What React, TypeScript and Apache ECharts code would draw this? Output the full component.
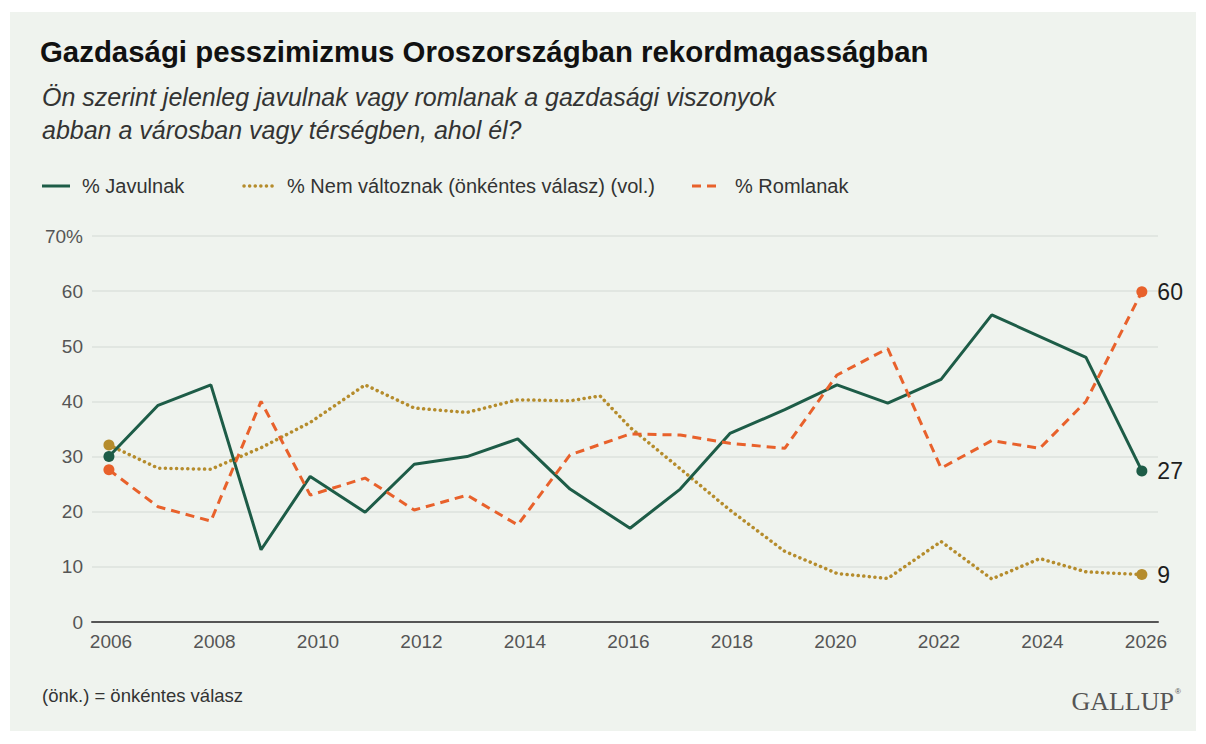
import React, { useEffect, useRef } from "react";
import * as echarts from "echarts";

// Survey dates (decimal years, as placed on the time axis)
const surveyYears = [
  2005.96, 2006.91, 2007.93, 2008.9, 2009.85, 2010.91, 2011.86, 2012.88,
  2013.86, 2014.87, 2015.45, 2016.03, 2017.0, 2017.96, 2019.02, 2020.03,
  2021.01, 2022.04, 2023.02, 2023.95, 2024.84, 2025.92,
];

// % Javulnak
const improving: (number | null)[] = [
  30.0, 39.3, 43.0, 13.1, 26.4, 19.9, 28.6, 30.0, 33.2, 24.1, null, 17.0,
  24.1, 34.2, 38.5, 43.0, 39.7, 44.0, 55.7, null, 48.0, 27.4,
];

// % Nem változnak (önkéntes válasz)
const noChange: (number | null)[] = [
  32.1, 27.9, 27.7, 31.6, 36.2, 43.0, 38.8, 38.0, 40.3, 40.1, 41.0, 35.3,
  27.8, 20.3, 12.8, 8.8, 7.9, 14.6, 7.8, 11.5, 9.1, 8.6,
];

// % Romlanak
const worsening: (number | null)[] = [
  27.6, 20.9, 18.3, 40.0, 23.0, 26.1, 20.3, 23.0, 17.6, 30.3, null, 34.1,
  33.9, 32.4, 31.5, 44.8, 49.6, 27.9, 32.9, 31.5, 40.0, 59.9,
];

const xTickLabels = [2006, 2008, 2010, 2012, 2014, 2016, 2018, 2020, 2022, 2024, 2026];

const seriesNames = [
  "% Javulnak",
  "% Nem változnak (önkéntes válasz) (vol.)",
  "% Romlanak",
];

const GREEN = "#1d5c47";
const GOLD = "#b58c2c";
const ORANGE = "#e8612b";
const BG = "#eff3ee";
const SANS = "'Liberation Sans', Arial, sans-serif";

function buildData(values: (number | null)[]) {
  const pts = surveyYears
    .map((x, i) => ({ x, y: values[i] }))
    .filter((p) => p.y !== null) as { x: number; y: number }[];
  return pts.map((p, i) => {
    const isFirst = i === 0;
    const isLast = i === pts.length - 1;
    const item: any = {
      value: [p.x, p.y],
      symbol: isFirst || isLast ? "circle" : "none",
      symbolSize: 11,
    };
    if (isLast) {
      item.label = {
        show: true,
        position: "right",
        distance: 10,
        formatter: () => String(Math.round(p.y)),
        fontSize: 23,
        fontFamily: SANS,
        color: "#1e1e1e",
      };
    }
    return item;
  });
}

export default function App() {
  const ref = useRef<HTMLDivElement>(null);

  useEffect(() => {
    if (!ref.current) return;
    const chart = echarts.init(ref.current, undefined, { renderer: "svg" });

    const legendItems = [
      { x: 42, w: 28, color: GREEN, dash: null as any, width: 3, cap: "butt", textX: 82 },
      { x: 244, w: 30, color: GOLD, dash: [0.1, 5.5], width: 3.5, cap: "round", textX: 287 },
      { x: 692, w: 28, color: ORANGE, dash: [9, 6], width: 3, cap: "butt", textX: 735 },
    ];

    const legendGraphics: any[] = [];
    legendItems.forEach((it, i) => {
      legendGraphics.push({
        type: "line",
        shape: { x1: it.x, y1: 186, x2: it.x + it.w, y2: 186 },
        style: {
          stroke: it.color,
          lineWidth: it.width,
          lineDash: it.dash || undefined,
          lineCap: it.cap,
        },
      });
      legendGraphics.push({
        type: "text",
        x: it.textX,
        y: 186,
        style: {
          text: seriesNames[i],
          font: `20px ${SANS}`,
          fill: "#333",
          textVerticalAlign: "middle",
        },
      });
    });

    const option: any = {
      animation: false,
      backgroundColor: "#ffffff",
      grid: { left: 92, right: 48, top: 236, bottom: 122, containLabel: false },
      xAxis: {
        type: "value",
        min: 2005.633,
        max: 2026.232,
        axisLine: { show: true, lineStyle: { color: "#555", width: 2 } },
        axisTick: { show: false },
        splitLine: { show: false },
        axisLabel: {
          customValues: xTickLabels,
          formatter: (v: number) => String(Math.round(v)),
          color: "#555",
          fontSize: 19,
          fontFamily: SANS,
          margin: 10,
        },
      },
      yAxis: {
        type: "value",
        min: 0,
        max: 70,
        interval: 10,
        axisLine: { show: false },
        axisTick: { show: false },
        splitLine: { show: true, lineStyle: { color: "#dde2dc", width: 1.5 } },
        axisLabel: {
          formatter: (v: number) => (v === 70 ? "70%" : String(v)),
          color: "#555",
          fontSize: 19,
          fontFamily: SANS,
          margin: 9,
        },
      },
      graphic: [
        {
          type: "rect",
          z: -10,
          silent: true,
          shape: { x: 10, y: 12, width: 1186, height: 719 },
          style: { fill: BG },
        },
        {
          type: "text",
          x: 40,
          y: 51,
          style: {
            text: "Gazdasági pesszimizmus Oroszországban rekordmagasságban",
            font: `bold 29.4px ${SANS}`,
            fill: "#111",
            textVerticalAlign: "middle",
          },
        },
        {
          type: "text",
          x: 42,
          y: 97,
          style: {
            text: "Ön szerint jelenleg javulnak vagy romlanak a gazdasági viszonyok",
            font: `italic 25px ${SANS}`,
            fill: "#333",
            textVerticalAlign: "middle",
          },
        },
        {
          type: "text",
          x: 42,
          y: 130,
          style: {
            text: "abban a városban vagy térségben, ahol él?",
            font: `italic 25px ${SANS}`,
            fill: "#333",
            textVerticalAlign: "middle",
          },
        },
        ...legendGraphics,
        {
          type: "text",
          x: 42,
          y: 695,
          style: {
            text: "(önk.) = önkéntes válasz",
            font: `18.5px ${SANS}`,
            fill: "#333",
            textVerticalAlign: "middle",
          },
        },
        {
          type: "text",
          x: 1174,
          y: 701,
          style: {
            text: "GALLUP",
            font: `26px 'Liberation Serif', 'DejaVu Serif', serif`,
            fill: "#555",
            textAlign: "right",
            textVerticalAlign: "middle",
          },
        },
        {
          type: "text",
          x: 1175,
          y: 691,
          style: {
            text: "®",
            font: `8px ${SANS}`,
            fill: "#555",
            textVerticalAlign: "middle",
          },
        },
      ],
      series: [
        {
          name: seriesNames[0],
          type: "line",
          data: buildData(improving),
          showSymbol: true,
          lineStyle: { color: GREEN, width: 3 },
          itemStyle: { color: GREEN },
          z: 4,
        },
        {
          name: seriesNames[1],
          type: "line",
          data: buildData(noChange),
          showSymbol: true,
          lineStyle: { color: GOLD, width: 3.5, type: [0.1, 5.5], cap: "round" },
          itemStyle: { color: GOLD },
          z: 3,
        },
        {
          name: seriesNames[2],
          type: "line",
          data: buildData(worsening),
          showSymbol: true,
          lineStyle: { color: ORANGE, width: 3, type: [9, 6] },
          itemStyle: { color: ORANGE },
          z: 5,
        },
      ],
    };

    chart.setOption(option);
    return () => chart.dispose();
  }, []);

  return (
    <div
      ref={ref}
      style={{ position: "absolute", left: 0, top: 0, width: 1206, height: 744 }}
    />
  );
}
